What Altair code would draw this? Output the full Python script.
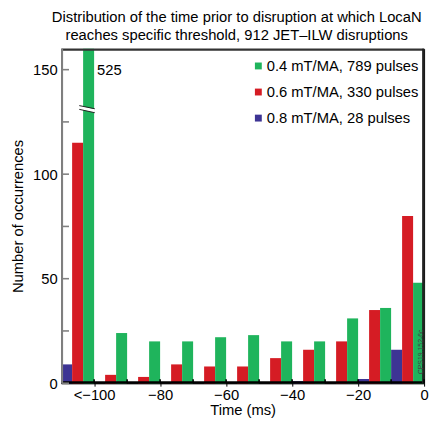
import altair as alt
import pandas as pd

# ---- data ----
bin_starts = [-110, -100, -90, -80, -70, -60, -50, -40, -30, -20, -10]
series_names = ["0.8 mT/MA, 28 pulses", "0.6 mT/MA, 330 pulses", "0.4 mT/MA, 789 pulses"]
counts_08 = [9, 0, 0, 0, 0, 0, 0, 1, 0, 2, 16]
counts_06 = [115, 4, 3, 9, 8, 8, 12, 16, 20, 35, 80]
counts_04 = [525, 24, 20, 20, 22, 23, 20, 20, 31, 36, 48]
legend_order = ["0.4 mT/MA, 789 pulses", "0.6 mT/MA, 330 pulses", "0.8 mT/MA, 28 pulses"]
colors = ["#1fb45c", "#d51c24", "#3d3494"]
x_tick_values = [-100, -90, -80, -70, -60, -50, -40, -30, -20, -10, 0]
y_label_values = [0, 50, 100, 150]
y_tick_values = [0, 25, 50, 75, 100, 125, 150]
title_lines = ["Distribution of the time prior to disruption at which LocaN",
               "reaches specific threshold, 912 JET\u2013ILW disruptions"]
overflow_label = ["525"]
overflow_at = [-100]
overflow_y = [150]
watermark = ["CPS19.152-6c"]
x_min, x_max = -110, 0
y_min, y_max = 0, 160

FONT = "Liberation Sans"
FS = 15
W, H = 369, 340
bin_width = 10
px_x = (x_max - x_min) / W   # one pixel in data units (x)
px_y = (y_max - y_min) / H   # one pixel in data units (y)

rows = []
for k, counts in enumerate([counts_08, counts_06, counts_04]):
    for s, c in zip(bin_starts, counts):
        rows.append({
            "series": series_names[k],
            "x0": s + k * bin_width / 3,
            "x1": s + (k + 1) * bin_width / 3,
            "count": c,
            "base": 0,
        })
bars_df = pd.DataFrame(rows)

xscale = alt.Scale(domain=[x_min, x_max], nice=False, zero=False, padding=0)
yscale = alt.Scale(domain=[y_min, y_max], nice=False, zero=True, padding=0, clamp=True)

bars = alt.Chart(bars_df).mark_rect().encode(
    x=alt.X("x0:Q", scale=xscale,
            axis=alt.Axis(values=x_tick_values,
                          labelExpr="datum.value == -100 ? '<\u2212100' : (datum.value % 20 == 0 ? datum.label : '')",
                          title="Time (ms)", grid=False, domain=True, ticks=True,
                          domainColor="#000000", domainWidth=1,
                          tickColor="#000000", tickSize=3, tickWidth=1,
                          labelFont=FONT, labelFontSize=FS, labelColor="#000000",
                          labelPadding=2, labelFlush=False, labelOverlap=False,
                          titleFont=FONT, titleFontSize=FS, titleFontWeight="normal",
                          titleColor="#000000", titlePadding=0)),
    x2="x1:Q",
    y=alt.Y("count:Q", scale=yscale,
            axis=alt.Axis(values=y_label_values, ticks=False, grid=False, domain=True,
                          domainColor="#808080", domainWidth=1,
                          title="Number of occurrences",
                          labelFont=FONT, labelFontSize=FS, labelColor="#000000",
                          labelPadding=4,
                          titleFont=FONT, titleFontSize=FS, titleFontWeight="normal",
                          titleColor="#000000", titlePadding=7)),
    y2="base:Q",
    color=alt.Color("series:N",
                    scale=alt.Scale(domain=legend_order, range=colors),
                    legend=alt.Legend(orient="none", legendX=193, legendY=10, title=None,
                                      symbolType="square", symbolSize=49,
                                      symbolStrokeWidth=0, symbolOpacity=1,
                                      labelFont=FONT, labelFontSize=FS, labelColor="#000000",
                                      labelOffset=1, rowPadding=10.5, padding=0)),
)

# frame and axis lines drawn as thin filled bars, just inside the plot edges
hlines = pd.DataFrame({"x": [x_min, x_min], "x2": [x_max, x_max],
                       "y": [y_min + px_y, y_max - px_y],
                       "c": ["#000000", "#333333"]})
hframe = alt.Chart(hlines).mark_bar(size=2, orient="horizontal").encode(
    x=alt.X("x:Q", scale=xscale), x2="x2:Q", y=alt.Y("y:Q", scale=yscale),
    color=alt.Color("c:N", scale=None, legend=None))
vlines = pd.DataFrame({"x": [x_min + px_x, x_max - px_x], "y": [y_min, y_min], "y2": [y_max, y_max],
                       "c": ["#808080", "#222222"]})
vframe = alt.Chart(vlines).mark_bar(size=2, orient="vertical").encode(
    x=alt.X("x:Q", scale=xscale), y=alt.Y("y:Q", scale=yscale), y2="y2:Q",
    color=alt.Color("c:N", scale=None, legend=None))

ytick_df = pd.DataFrame({"v": y_tick_values})
yticks = alt.Chart(ytick_df).mark_bar(size=1.6, orient="horizontal", color="#808080").encode(
    y=alt.Y("v:Q", scale=yscale), x=alt.value(1), x2=alt.value(8))

xtick_df = pd.DataFrame({"v": x_tick_values})
xticks = alt.Chart(xtick_df).mark_bar(size=1.6, orient="vertical", color="#000000").encode(
    x=alt.X("v:Q", scale=xscale), y=alt.value(H - 4), y2=alt.value(H))

label_df = pd.DataFrame({"x": overflow_at, "y": overflow_y, "t": overflow_label})
over_text = alt.Chart(label_df).mark_text(
    align="left", baseline="middle", dx=3, font=FONT, fontSize=FS, color="#000000"
).encode(x=alt.X("x:Q", scale=xscale), y=alt.Y("y:Q", scale=yscale), text="t:N")

# axis-break marks on the overflowing bar (data units)
gap_df = pd.DataFrame({"x": [-104.3], "x2": [-99.9], "y": [131.9], "y2": [130.3]})
gap = alt.Chart(gap_df).mark_rule(color="white", strokeWidth=3.5).encode(
    x=alt.X("x:Q", scale=xscale), x2="x2:Q", y=alt.Y("y:Q", scale=yscale), y2="y2:Q")
brk_df = pd.DataFrame({"x": [-104.5, -104.5], "x2": [-99.8, -99.8],
                       "y": [132.8, 131.0], "y2": [131.3, 129.4]})
brk = alt.Chart(brk_df).mark_rule(color="#222222", strokeWidth=1).encode(
    x=alt.X("x:Q", scale=xscale), x2="x2:Q", y=alt.Y("y:Q", scale=yscale), y2="y2:Q")

wm_df = pd.DataFrame({"x": [0], "y": [15], "t": watermark})
wm = alt.Chart(wm_df).mark_text(
    angle=270, align="center", baseline="bottom", font=FONT, fontSize=7, color="#444444"
).encode(x=alt.X("x:Q", scale=xscale), y=alt.Y("y:Q", scale=yscale), text="t:N")

chart = alt.layer(bars, gap, brk, hframe, vframe, yticks, xticks, over_text, wm).properties(
    width=W, height=H,
    title=alt.TitleParams(text=title_lines, font=FONT, fontSize=FS, fontWeight="normal",
                          color="#000000", anchor="middle", offset=6, lineHeight=18, dx=-6),
    autosize=alt.AutoSizeParams(type="none"),
    padding={"left": 54, "top": 38, "right": 6, "bottom": 35},
).configure_view(stroke="#000000", strokeWidth=1)

chart.save("out.html", embed_options={"renderer": "svg", "actions": False})
